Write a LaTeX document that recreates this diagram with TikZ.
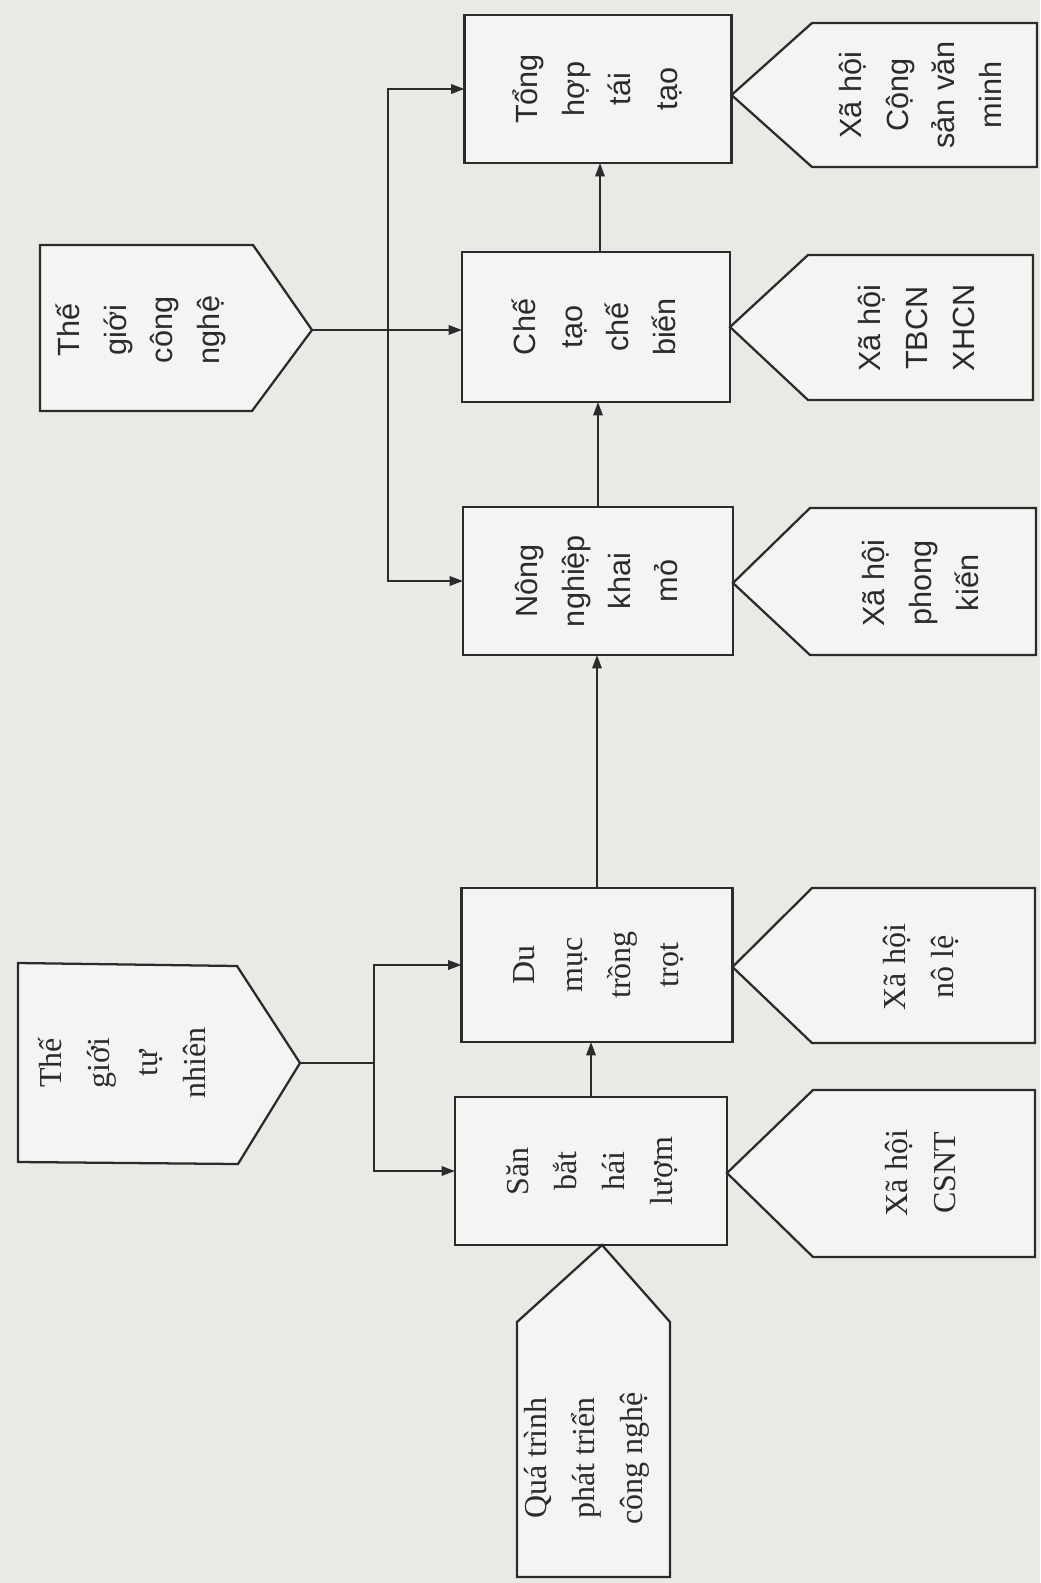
\documentclass[tikz,border=0pt]{standalone}
\usepackage{fontspec}
\setmainfont{Liberation Serif}
\newfontfamily\sansf{Liberation Sans}
\usetikzlibrary{arrows.meta}
\definecolor{paper}{HTML}{E9E9E6}
\definecolor{boxfill}{HTML}{F4F4F2}
\definecolor{ink}{HTML}{2B2B2B}
\newcommand{\vtext}[1]{\rotatebox{90}{\begin{tabular}{@{}c@{}}#1\end{tabular}}}
\begin{document}
\begin{tikzpicture}[x=0.75pt,y=-0.75pt,
  every node/.style={inner sep=0pt, outer sep=0pt, text=ink},
  box/.style={draw=ink, line width=1.7pt, fill=boxfill},
  pent/.style={draw=ink, line width=1.7pt, fill=boxfill, line join=miter},
  sanslbl/.style={font=\sansf\fontsize{23}{35}\selectfont},
  seriflbl/.style={font=\fontsize{24}{36}\selectfont},
  conn/.style={draw=ink, line width=1.5pt},
  arr/.style={conn, -{Triangle[length=10pt,width=7pt]}}]
\fill[paper] (0,0) rectangle (1040,1583);
\useasboundingbox (0,0) rectangle (1040,1583);

% central column of boxes
\node[box, sanslbl, minimum width={267*0.75pt}, minimum height={148*0.75pt}] (tong) at (598,89)
  {\vtext{Tổng\\hợp\\tái\\tạo}};
\node[box, sanslbl, minimum width={268*0.75pt}, minimum height={150*0.75pt}] (chetao) at (596,327)
  {\vtext{Chế\\tạo\\chế\\biến}};
\node[box, sanslbl, minimum width={270*0.75pt}, minimum height={148*0.75pt}] (nong) at (598,581)
  {\vtext{Nông\\nghiệp\\khai\\mỏ}};
\node[box, seriflbl, minimum width={271*0.75pt}, minimum height={154*0.75pt}] (dumuc) at (597,965)
  {\vtext{Du\\mục\\trồng\\trọt}};
\node[box, seriflbl, minimum width={272*0.75pt}, minimum height={148*0.75pt}] (san) at (591,1171)
  {\vtext{Săn\\bắt\\hái\\lượm}};

% right pentagons (societies)
\coordinate (cs-tip) at (tong.east |- 0,95);
\draw[pent] (cs-tip) -- (812,23) -- (1037,23) -- (1037,167) -- (812,167) -- cycle;
\node[sanslbl] (cs) at (922,95) {\vtext{Xã hội\\Cộng\\sản văn\\minh}};

\coordinate (tb-tip) at (chetao.east |- 0,327);
\draw[pent] (tb-tip) -- (808,255) -- (1033,255) -- (1033,400) -- (808,400) -- cycle;
\node[sanslbl] (tb) at (918,328) {\vtext{Xã hội\\TBCN\\XHCN}};

\coordinate (pk-tip) at (nong.east |- 0,583);
\draw[pent] (pk-tip) -- (810,508) -- (1036,508) -- (1036,655) -- (810,655) -- cycle;
\node[sanslbl] (pk) at (922,583) {\vtext{Xã hội\\phong\\kiến}};

\coordinate (nl-tip) at (dumuc.east |- 0,967);
\draw[pent] (nl-tip) -- (812,888) -- (1035,888) -- (1035,1043) -- (812,1043) -- cycle;
\node[seriflbl] (nl) at (920,967) {\vtext{Xã hội\\nô lệ}};

\coordinate (csnt-tip) at (san.east |- 0,1173);
\draw[pent] (csnt-tip) -- (813,1090) -- (1035,1090) -- (1035,1257) -- (813,1257) -- cycle;
\node[seriflbl] (csnt) at (922,1173) {\vtext{Xã hội\\CSNT}};

% left pentagons (worlds)
\coordinate (tgcn-tip) at (312,330);
\draw[pent] (40,245) -- (253,245) -- (tgcn-tip) -- (252,411) -- (40,411) -- cycle;
\node[sanslbl] (tgcn) at (140,330) {\vtext{Thế\\giới\\công\\nghệ}};

\coordinate (tgtn-tip) at (300,1063);
\draw[pent] (18,963) -- (237,966) -- (tgtn-tip) -- (238,1164) -- (18,1162) -- cycle;
\node[seriflbl] (tgtn) at (124,1063) {\vtext{Thế\\giới\\tự\\nhiên}};

% bottom pentagon
\coordinate (qx) at (602,0);
\coordinate (qt-tip) at (san.south -| qx);
\draw[pent] (qt-tip) -- (670,1322) -- (670,1577) -- (517,1577) -- (517,1322) -- cycle;
\node[seriflbl] (qt) at (585,1458) {\vtext{Quá trình\\phát triển\\công nghệ}};

% vertical arrows in the central column
\coordinate (a1) at (591,0);
\coordinate (a2) at (597,0);
\coordinate (a3) at (598,0);
\coordinate (a4) at (600,0);
\draw[arr] (san.north -| a1) -- (dumuc.south -| a1);
\draw[arr] (dumuc.north -| a2) -- (nong.south -| a2);
\draw[arr] (nong.north -| a3) -- (chetao.south -| a3);
\draw[arr] (chetao.north -| a4) -- (tong.south -| a4);

% Thế giới công nghệ connectors
\coordinate (j2) at (388,0);
\draw[arr] (tgcn-tip) -- (chetao.west |- tgcn-tip);
\draw[arr] (j2 |- tgcn-tip) |- (tong.west);
\draw[arr] (j2 |- tgcn-tip) |- (nong.west);

% Thế giới tự nhiên connectors
\coordinate (j1) at (374,0);
\draw[conn] (tgtn-tip) -- (j1 |- tgtn-tip);
\draw[arr] (j1 |- tgtn-tip) |- (dumuc.west);
\draw[arr] (j1 |- tgtn-tip) |- (san.west);
\end{tikzpicture}
\end{document}
